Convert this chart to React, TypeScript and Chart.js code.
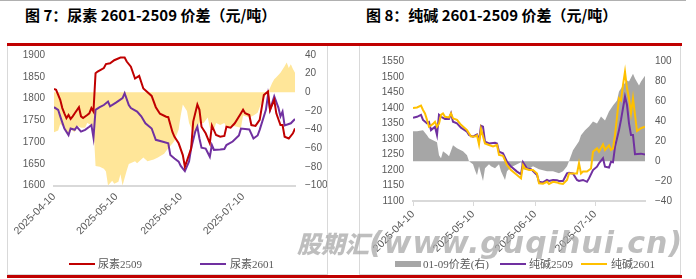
import React, { useEffect, useRef } from 'react';
import { Chart, registerables } from 'chart.js';

Chart.register(...registerables);

// ---- shared axis data ----
const START_DATE = '2025-04-10';
const LAST_DAY = 116; // 2025-08-04
const dateTickLabels = ['2025-04-10', '2025-05-10', '2025-06-10', '2025-07-10'];

// ---- 图7 尿素 (days since 2025-04-10) ----
const urea2509Days = [0, 1, 3, 4, 5, 6, 7, 8, 9, 10, 12, 13, 14, 16, 17, 18, 19, 20, 21, 24, 25, 27, 29, 32, 34, 35, 37, 39, 41, 43, 47, 49, 51, 54, 55, 57, 58, 60, 62, 63, 66, 67, 69, 70, 71, 73, 75, 76, 78, 80, 82, 83, 85, 87, 90, 91, 92, 94, 95, 97, 99, 101, 103, 104, 106, 107, 109, 110, 111, 113, 115, 116];
const urea2509 = [1822, 1820, 1797, 1778, 1766, 1755, 1762, 1753, 1759, 1766, 1780, 1759, 1755, 1762, 1766, 1778, 1770, 1858, 1862, 1870, 1879, 1881, 1888, 1894, 1894, 1885, 1873, 1846, 1852, 1823, 1806, 1780, 1765, 1758, 1757, 1723, 1712, 1697, 1670, 1643, 1685, 1747, 1786, 1774, 1735, 1720, 1697, 1738, 1716, 1712, 1714, 1735, 1733, 1743, 1766, 1774, 1766, 1762, 1739, 1737, 1751, 1808, 1816, 1774, 1797, 1766, 1739, 1739, 1712, 1708, 1720, 1731];

const urea2601Days = [0, 2, 3, 5, 7, 8, 10, 11, 13, 15, 17, 18, 19, 20, 22, 24, 26, 27, 30, 33, 34, 36, 37, 40, 42, 44, 47, 49, 52, 55, 56, 58, 60, 61, 63, 65, 66, 68, 69, 70, 71, 73, 75, 76, 77, 80, 82, 83, 86, 89, 90, 94, 96, 98, 99, 102, 103, 104, 106, 108, 109, 110, 111, 114, 116];
const urea2601 = [1780, 1774, 1759, 1731, 1716, 1731, 1728, 1735, 1724, 1728, 1735, 1739, 1710, 1774, 1780, 1785, 1793, 1782, 1791, 1801, 1812, 1785, 1778, 1770, 1759, 1743, 1731, 1705, 1701, 1697, 1670, 1662, 1655, 1645, 1633, 1655, 1685, 1724, 1735, 1708, 1687, 1685, 1666, 1693, 1682, 1683, 1684, 1693, 1701, 1715, 1731, 1729, 1708, 1715, 1728, 1774, 1808, 1774, 1805, 1779, 1759, 1770, 1738, 1743, 1753];

const ureaSpreadDays = [0, 2, 3, 5, 7, 8, 10, 11, 13, 15, 16, 18, 19, 20, 22, 24, 25, 26, 28, 29, 31, 32, 33, 35, 36, 39, 40, 43, 45, 48, 50, 53, 55, 57, 58, 60, 61, 62, 64, 65, 66, 67, 69, 70, 72, 74, 75, 77, 78, 80, 82, 83, 86, 90, 91, 94, 96, 98, 99, 101, 103, 104, 105, 106, 107, 109, 111, 112, 113, 114, 115, 116];
const ureaSpread = [-43, -41, -34, -38, -47, -40, -43, -36, -38, -38, -33, -35, -37, -79, -80, -82, -85, -100, -95, -98, -96, -88, -100, -84, -77, -74, -76, -70, -74, -72, -70, -66, -60, -55, -52, -40, -25, -13, -20, -33, -38, -45, -38, -33, -33, -27, -38, -40, -33, -35, -33, -38, -36, -38, -25, -27, -25, -22, -16, -6, 0, 5, 10, 14, 16, 21, 28, 32, 26, 30, 25, 21];

// ---- 图8 纯碱 ----
const soda2509Days = [0, 2, 4, 5, 7, 8, 9, 11, 12, 13, 14, 16, 18, 19, 20, 22, 24, 27, 28, 30, 32, 33, 34, 35, 36, 38, 41, 42, 43, 45, 47, 49, 52, 54, 55, 57, 59, 62, 63, 65, 67, 68, 70, 72, 73, 75, 77, 78, 80, 82, 83, 85, 87, 88, 90, 92, 93, 95, 96, 98, 99, 100, 101, 103, 104, 105, 106, 107, 108, 109, 110, 111, 114, 116];
const soda2509 = [1369, 1372, 1378, 1362, 1351, 1355, 1329, 1340, 1313, 1378, 1372, 1365, 1365, 1383, 1356, 1351, 1337, 1324, 1313, 1308, 1315, 1294, 1343, 1340, 1292, 1286, 1288, 1286, 1259, 1254, 1227, 1211, 1195, 1186, 1225, 1205, 1203, 1184, 1162, 1160, 1168, 1165, 1168, 1167, 1165, 1165, 1189, 1191, 1189, 1168, 1165, 1168, 1162, 1173, 1200, 1211, 1222, 1238, 1211, 1208, 1227, 1225, 1275, 1329, 1362, 1400, 1437, 1410, 1351, 1313, 1313, 1251, 1253, 1250];

const soda2601Days = [0, 2, 4, 5, 6, 7, 8, 10, 11, 12, 13, 14, 15, 16, 18, 19, 20, 22, 24, 27, 29, 31, 32, 33, 34, 36, 38, 40, 42, 43, 45, 47, 49, 52, 54, 55, 56, 58, 60, 62, 63, 65, 67, 68, 70, 72, 73, 75, 77, 78, 80, 82, 83, 84, 85, 87, 89, 90, 92, 93, 95, 96, 98, 99, 100, 101, 102, 103, 104, 105, 106, 107, 108, 109, 110, 111, 112, 114, 116];
const soda2601 = [1400, 1402, 1408, 1394, 1383, 1362, 1340, 1349, 1356, 1340, 1350, 1378, 1383, 1372, 1370, 1383, 1367, 1362, 1346, 1329, 1308, 1308, 1312, 1283, 1333, 1286, 1281, 1276, 1281, 1249, 1246, 1216, 1200, 1184, 1173, 1216, 1205, 1200, 1200, 1189, 1157, 1156, 1162, 1155, 1162, 1160, 1157, 1155, 1168, 1189, 1189, 1189, 1222, 1189, 1195, 1195, 1205, 1259, 1270, 1259, 1283, 1265, 1280, 1265, 1270, 1313, 1372, 1432, 1425, 1475, 1518, 1464, 1432, 1383, 1432, 1378, 1326, 1335, 1340];

const sodaSpreadDays = [0, 2, 5, 7, 8, 10, 12, 13, 14, 15, 17, 18, 20, 22, 25, 27, 28, 30, 31, 32, 33, 35, 36, 38, 39, 41, 43, 44, 46, 47, 49, 52, 54, 55, 57, 60, 63, 67, 70, 73, 75, 77, 78, 80, 83, 84, 86, 88, 90, 92, 94, 96, 98, 100, 102, 103, 105, 107, 108, 110, 111, 113, 114, 116];
const sodaSpread = [30, 30, 31, 26, 23, 21, 19, 6, 3, 10, 7, 5, 16, 13, 10, 6, 0, -3, -9, -14, -5, -20, -7, -3, -5, -7, -3, -10, -19, -10, -6, -3, -1, -8, -9, -5, -8, -10, -10, -12, -10, -5, 0, 11, 20, 26, 31, 35, 40, 38, 45, 41, 50, 56, 61, 70, 76, 81, 80, 88, 83, 76, 80, 86];

// ---- helpers ----
const dayOf = (s: string) => Math.round((Date.parse(s) - Date.parse(START_DATE)) / 86400000);
const tickDays = dateTickLabels.map(dayOf);
const pts = (xs: number[], ys: number[]) => xs.map((x, i) => ({ x, y: ys[i] }));

const TICK_COLOR = '#595959';
const TICK_FONT = { family: "'Liberation Sans', Arial, sans-serif", size: 10 };
const X_FONT = { family: "'Liberation Sans', Arial, sans-serif", size: 10.5 };

type ChartSpec = {
  datasets: any[];
  yMin: number; yMax: number; yStep: number;
  y1Min: number; y1Max: number; y1Step: number;
  leftW: number; rightW: number; xH: number; padTop: number;
  xTicks: boolean;
};

const noPad = (s: any) => {
  s.paddingTop = 0;
  s.paddingBottom = 0;
  s.paddingLeft = 0;
  s.paddingRight = 0;
};

function buildConfig(spec: ChartSpec): any {
  return {
    type: 'line',
    data: { datasets: spec.datasets },
    options: {
      animation: false,
      responsive: false,
      maintainAspectRatio: false,
      layout: { padding: { top: spec.padTop, left: 0, right: 0, bottom: 0 } },
      plugins: { legend: { display: false }, tooltip: { enabled: false } },
      elements: { point: { radius: 0 }, line: { tension: 0 } },
      scales: {
        x: {
          type: 'linear',
          min: 0,
          max: LAST_DAY,
          afterBuildTicks: (s: any) => { s.ticks = tickDays.map((v) => ({ value: v })); },
          afterFit: (s: any) => { s.height = spec.xH; noPad(s); },
          ticks: {
            autoSkip: false,
            minRotation: 45,
            maxRotation: 45,
            padding: spec.xTicks ? 2 : 5,
            color: TICK_COLOR,
            font: X_FONT,
            callback: (_v: any, i: number) => dateTickLabels[i],
          },
          grid: {
            display: true,
            drawOnChartArea: false,
            drawTicks: spec.xTicks,
            tickLength: 5,
            color: '#d9d9d9',
          },
          border: { display: true, color: '#d9d9d9', width: 2 },
        },
        y: {
          position: 'left',
          min: spec.yMin,
          max: spec.yMax,
          afterFit: (s: any) => { s.width = spec.leftW; noPad(s); },
          ticks: { stepSize: spec.yStep, padding: 9, color: TICK_COLOR, font: TICK_FONT, callback: (v: any) => String(v) },
          grid: { display: false, drawTicks: false },
          border: { display: false },
        },
        y1: {
          position: 'right',
          min: spec.y1Min,
          max: spec.y1Max,
          afterFit: (s: any) => { s.width = spec.rightW; noPad(s); },
          ticks: {
            stepSize: spec.y1Step,
            padding: 10,
            color: TICK_COLOR,
            font: TICK_FONT,
            callback: (v: any) => String(v).replace('-', '\u2212'),
          },
          grid: { display: false, drawTicks: false },
          border: { display: false },
        },
      },
    },
  };
}

function ChartCanvas({ spec, left, top, width, height }: { spec: ChartSpec; left: number; top: number; width: number; height: number }) {
  const ref = useRef<HTMLCanvasElement | null>(null);
  useEffect(() => {
    if (!ref.current) return;
    const chart = new Chart(ref.current, buildConfig(spec));
    return () => chart.destroy();
  }, []);
  return (
    <canvas
      ref={ref}
      width={width}
      height={height}
      style={{ position: 'absolute', left, top, width, height }}
    />
  );
}

const ureaSpec: ChartSpec = {
  datasets: [
    { label: '尿素2509', data: pts(urea2509Days, urea2509), yAxisID: 'y', borderColor: '#c00000', borderWidth: 2, pointRadius: 0, fill: false, order: 1 },
    { label: '尿素2601', data: pts(urea2601Days, urea2601), yAxisID: 'y', borderColor: '#7030a0', borderWidth: 2, pointRadius: 0, fill: false, order: 2 },
    { label: '价差', data: pts(ureaSpreadDays, ureaSpread), yAxisID: 'y1', borderColor: 'rgba(0,0,0,0)', borderWidth: 0, backgroundColor: '#ffe699', pointRadius: 0, fill: 'origin', order: 3 },
  ],
  yMin: 1600, yMax: 1900, yStep: 50,
  y1Min: -100, y1Max: 40, y1Step: 20,
  leftW: 46, rightW: 32, xH: 76.5, padTop: 8, xTicks: false,
};

const sodaSpec: ChartSpec = {
  datasets: [
    { label: '纯碱2509', data: pts(soda2509Days, soda2509), yAxisID: 'y', borderColor: '#7030a0', borderWidth: 2, pointRadius: 0, fill: false, order: 2 },
    { label: '纯碱2601', data: pts(soda2601Days, soda2601), yAxisID: 'y', borderColor: '#ffc000', borderWidth: 2, pointRadius: 0, fill: false, order: 1 },
    { label: '01-09价差(右)', data: pts(sodaSpreadDays, sodaSpread), yAxisID: 'y1', borderColor: 'rgba(0,0,0,0)', borderWidth: 0, backgroundColor: '#a6a6a6', pointRadius: 0, fill: 'origin', order: 3 },
  ],
  yMin: 1100, yMax: 1550, yStep: 50,
  y1Min: -40, y1Max: 100, y1Step: 20,
  leftW: 52, rightW: 35, xH: 61, padTop: 14.7, xTicks: true,
};

const legendText: React.CSSProperties = {
  position: 'absolute',
  fontFamily: "'Liberation Serif', 'Noto Sans CJK SC', serif",
  fontSize: 11,
  color: '#595959',
  lineHeight: '12px',
  whiteSpace: 'nowrap',
};

function LineKey({ left, top, color }: { left: number; top: number; color: string }) {
  return <div style={{ position: 'absolute', left, top, width: 26, height: 2, background: color }} />;
}

export default function App() {
  const titleStyle: React.CSSProperties = {
    position: 'absolute',
    top: 5,
    fontFamily: "'Noto Sans CJK SC', sans-serif",
    fontWeight: 700,
    fontSize: 15,
    lineHeight: '20px',
    color: '#000',
    whiteSpace: 'nowrap',
  };
  return (
    <div style={{ position: 'fixed', left: 0, top: 0, width: 696, height: 279, background: '#fff', overflow: 'hidden' }}>
      <div style={{ position: 'absolute', left: 0, top: 0, width: 686, height: 1, background: '#b0b0b0' }} />
      <div style={{ ...titleStyle, left: 25 }}>图 7：尿素 2601-2509 价差（元/吨）</div>
      <div style={{ ...titleStyle, left: 366 }}>图 8：纯碱 2601-2509 价差（元/吨）</div>

      {/* panels */}
      <div style={{ position: 'absolute', left: 7, top: 45, width: 321, height: 230, border: '1px solid #d9d9d9', boxSizing: 'border-box' }} />
      <div style={{ position: 'absolute', left: 359, top: 45, width: 322, height: 230, border: '1px solid #d9d9d9', boxSizing: 'border-box' }} />
      <div style={{ position: 'absolute', left: 7, top: 43, width: 675, height: 3, background: '#c00000' }} />
      <div style={{ position: 'absolute', left: 7, top: 275, width: 675, height: 3, background: '#c00000' }} />

      <ChartCanvas spec={ureaSpec} left={8} top={47} width={319} height={215} />
      <ChartCanvas spec={sodaSpec} left={361} top={47} width={319} height={215} />

      {/* legends */}
      <LineKey left={69} top={263} color="#c00000" />
      <div style={{ ...legendText, left: 98, top: 258 }}>尿素2509</div>
      <LineKey left={200} top={263} color="#7030a0" />
      <div style={{ ...legendText, left: 230, top: 258 }}>尿素2601</div>

      <div style={{ position: 'absolute', left: 395, top: 261, width: 26, height: 6, background: '#a6a6a6' }} />
      <div style={{ ...legendText, left: 423, top: 258 }}>01-09价差(右)</div>
      <LineKey left={500} top={263} color="#7030a0" />
      <div style={{ ...legendText, left: 529, top: 258 }}>纯碱2509</div>
      <LineKey left={581} top={263} color="#ffc000" />
      <div style={{ ...legendText, left: 611, top: 258 }}>纯碱2601</div>

      {/* watermark */}
      <div style={{ position: 'absolute', left: 297, top: 226, whiteSpace: 'nowrap', color: 'rgba(165,165,165,0.72)', lineHeight: '34px', height: 34 }}>
        <span style={{ fontFamily: "'Noto Sans CJK SC', sans-serif", fontWeight: 900, fontSize: 24, fontStyle: 'italic' }}>股期汇</span>
        <span style={{ fontFamily: "'DejaVu Sans', sans-serif", fontWeight: 700, fontSize: 30, fontStyle: 'italic', letterSpacing: 1 }}>(www.guqihui.cn)</span>
      </div>
    </div>
  );
}
